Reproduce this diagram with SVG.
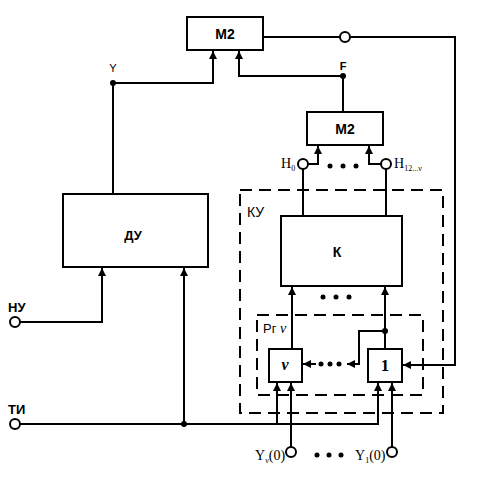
<svg xmlns="http://www.w3.org/2000/svg" width="480" height="480" viewBox="0 0 480 480">
<defs>
<marker id="ar" viewBox="0 0 10 10" refX="10" refY="5" markerWidth="8" markerHeight="11" markerUnits="userSpaceOnUse" orient="auto">
<path d="M0,0 L10,5 L0,10 z" fill="#000"/>
</marker>
</defs>
<style>
.b{fill:#fff;stroke:#000;stroke-width:2}
.l{fill:none;stroke:#000;stroke-width:2}
.d{fill:none;stroke:#000;stroke-width:2;stroke-dasharray:12,7}
.c{fill:#fff;stroke:#000;stroke-width:2}
.t{font-family:"Liberation Sans",Arial,sans-serif;font-size:14px;font-weight:bold;text-anchor:middle}
.s{font-family:"Liberation Sans",Arial,sans-serif;font-size:11px}
.r{font-family:"Liberation Serif","Times New Roman",serif;font-size:14px}
.sub{font-size:8px}
</style>
<g id="connectors">
<path class="l" d="M113,194 V83 H213 V51" marker-end="url(#ar)"/>
<path class="l" d="M343,112 V76 H239 V51" marker-end="url(#ar)"/>
<path class="l" d="M263,37 H340"/>
<path class="l" d="M350,37 H455 V365 H403" marker-end="url(#ar)"/>
<path class="l" d="M20,322 H102 V268" marker-end="url(#ar)"/>
<path class="l" d="M20,424 H378 V383" marker-end="url(#ar)"/>
<path class="l" d="M184,424 V268" marker-end="url(#ar)"/>
<path class="l" d="M277,424 V383" marker-end="url(#ar)"/>
<path class="l" d="M291,447 V383" marker-end="url(#ar)"/>
<path class="l" d="M392,447 V383" marker-end="url(#ar)"/>
<path class="l" d="M303,216 V169"/>
<path class="l" d="M386,216 V169"/>
<path class="l" d="M308,164 H318 V146" marker-end="url(#ar)"/>
<path class="l" d="M381,164 H369 V146" marker-end="url(#ar)"/>
<path class="l" d="M292,349 V287" marker-end="url(#ar)"/>
<path class="l" d="M385,349 V287" marker-end="url(#ar)"/>
<path class="l" d="M385,331 H359 V364 H347" marker-end="url(#ar)"/>
<path class="l" d="M316,364 H303" marker-end="url(#ar)"/>
<circle cx="113" cy="83" r="3"/>
<circle cx="343" cy="76" r="3"/>
<circle cx="184" cy="424" r="3"/>
<circle cx="385" cy="331" r="3"/>
<circle class="c" cx="345" cy="37" r="5"/>
<circle class="c" cx="15" cy="322" r="5"/>
<circle class="c" cx="15" cy="424" r="5"/>
<circle class="c" cx="303" cy="164" r="5"/>
<circle class="c" cx="386" cy="164" r="5"/>
<circle class="c" cx="291" cy="452" r="5"/>
<circle class="c" cx="392" cy="452" r="5"/>
<g fill="#000">
<circle cx="330" cy="166" r="2.5"/><circle cx="343" cy="166" r="2.5"/><circle cx="356" cy="166" r="2.5"/>
<circle cx="323" cy="297" r="2.5"/><circle cx="336" cy="297" r="2.5"/><circle cx="349" cy="297" r="2.5"/>
<circle cx="321" cy="364" r="2.5"/><circle cx="330" cy="364" r="2.5"/><circle cx="339" cy="364" r="2.5"/>
<circle cx="317" cy="455" r="2.5"/><circle cx="329" cy="455" r="2.5"/><circle cx="341" cy="455" r="2.5"/>
</g>
</g>
<g id="KU">
<rect class="d" x="240" y="190" width="203" height="223"/>
<text class="s" x="247" y="217" style="font-size:14px">КУ</text>
</g>
<g id="Rg">
<rect class="d" x="257" y="315" width="166" height="80"/>
<text class="s" x="263" y="333" style="font-size:13px">Рг <tspan style="font-family:'Liberation Serif',serif;font-style:italic;font-size:14px">ν</tspan></text>
</g>
<g id="M2top">
<rect class="b" x="187" y="17" width="76" height="33"/>
<text class="t" x="225" y="39">M2</text>
</g>
<g id="M2low">
<rect class="b" x="307" y="112" width="76" height="33"/>
<text class="t" x="345" y="134">M2</text>
</g>
<g id="DU">
<rect class="b" x="63" y="194" width="145" height="73"/>
<text class="t" x="133" y="240" style="font-size:13px">ДУ</text>
</g>
<g id="K">
<rect class="b" x="281" y="216" width="121" height="70"/>
<text class="t" x="337" y="257" style="font-size:14px">К</text>
</g>
<g id="Bnu">
<rect class="b" x="269" y="349" width="33" height="33"/>
<text class="r" x="285" y="370" style="text-anchor:middle;font-weight:bold;font-style:italic;font-size:16px">ν</text>
</g>
<g id="B1">
<rect class="b" x="368" y="349" width="34" height="33"/>
<text class="r" x="385" y="371" style="text-anchor:middle;font-weight:bold;font-size:17px">1</text>
</g>
<g id="labels">
<text class="s" x="113" y="72" style="text-anchor:middle">Y</text>
<text class="s" x="343" y="70" style="text-anchor:middle;font-weight:bold">F</text>
<text class="s" x="8" y="312" style="font-size:13px;font-weight:bold">НУ</text>
<text class="s" x="8" y="414" style="font-size:13px;font-weight:bold">ТИ</text>
<text class="r" x="281" y="168">H<tspan class="sub" dy="3">0</tspan></text>
<text class="r" x="394" y="168">H<tspan class="sub" dy="3">12...ν</tspan></text>
<text class="r" x="255" y="460">Y<tspan class="sub" dy="3">ν</tspan><tspan dy="-3">(0)</tspan></text>
<text class="r" x="355" y="460">Y<tspan class="sub" dy="3">1</tspan><tspan dy="-3">(0)</tspan></text>
</g>
</svg>
